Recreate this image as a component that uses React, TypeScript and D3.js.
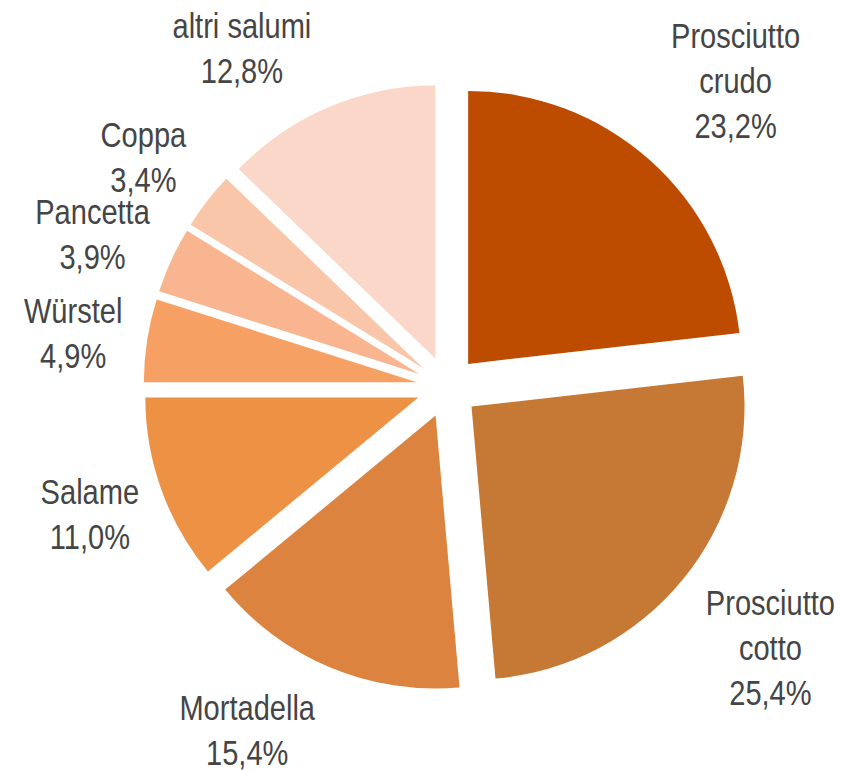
import React from 'react';
import * as d3 from 'd3';

// quota % per categoria (in senso orario dalle ore 12)
const categories = ['Prosciutto crudo', 'Prosciutto cotto', 'Mortadella', 'Salame', 'Würstel', 'Pancetta', 'Coppa', 'altri salumi'];
const shares = [23.2, 25.4, 15.4, 11.0, 4.9, 3.9, 3.4, 12.8];
const labelLines = [
  ['Prosciutto', 'crudo'],
  ['Prosciutto', 'cotto'],
  ['Mortadella'],
  ['Salame'],
  ['Würstel'],
  ['Pancetta'],
  ['Coppa'],
  ['altri salumi'],
];
const colors = ['#BD4B00', '#C67835', '#DB833F', '#ED9245', '#F6A163', '#F8B590', '#F9C6AA', '#FAD7C8'];

const W = 841;
const H = 770;
const cx = 447.5;
const cy = 387;
const radius = 273;
const explode = 31;
const labelRadius = 395;
const lineH = 45;
// no narrow font installed, so squeeze a regular sans horizontally
const squeeze = 0.83;

// small hand tweaks so labels sit where the original put them
const labelNudge = [
  [25, -12], [17, 10], [-48, -22], [14, -7], [16, 6], [4, 11], [8, 12], [-51, 24],
];

const fmt = (v: number) => v.toFixed(1).replace('.', ',') + '%';

export default function App() {
  const data = categories.map((name, i) => ({ name, value: shares[i], i }));

  const pie = d3.pie<any>()
    .value(d => d.value)
    .sort(null)
    .startAngle(0)
    .endAngle(2 * Math.PI);

  const arcs = pie(data);

  const arc = d3.arc<any>().innerRadius(0).outerRadius(radius);
  const explodeArc = d3.arc<any>().innerRadius(explode).outerRadius(explode);
  const labelArc = d3.arc<any>().innerRadius(labelRadius).outerRadius(labelRadius);

  return (
    <svg
      width={W}
      height={H}
      style={{ position: 'absolute', left: 0, top: 0, background: '#fff' }}
      fontFamily="'Liberation Sans', Arial, sans-serif"
    >
      <g transform={`translate(${cx},${cy})`}>
        {arcs.map(a => {
          const [ox, oy] = explodeArc.centroid(a);
          return (
            <path
              key={a.data.name}
              d={arc(a) || ''}
              transform={`translate(${ox},${oy})`}
              fill={colors[a.data.i]}
            />
          );
        })}
        {arcs.map(a => {
          const [lx0, ly0] = labelArc.centroid(a);
          const [nx, ny] = labelNudge[a.data.i];
          const lx = lx0 + nx;
          const ly = ly0 + ny;
          const lines = [...labelLines[a.data.i], fmt(a.data.value)];
          const first = ly + 13 - ((lines.length - 1) * lineH) / 2;
          return (
            <text
              key={'l' + a.data.name}
              transform={`translate(${lx},0) scale(${squeeze},1)`}
              y={first}
              textAnchor="middle"
              fontSize={35}
              fill="#454545"
            >
              {lines.map((t, k) => (
                <tspan key={k} x={0} y={first + k * lineH}>{t}</tspan>
              ))}
            </text>
          );
        })}
      </g>
    </svg>
  );
}
